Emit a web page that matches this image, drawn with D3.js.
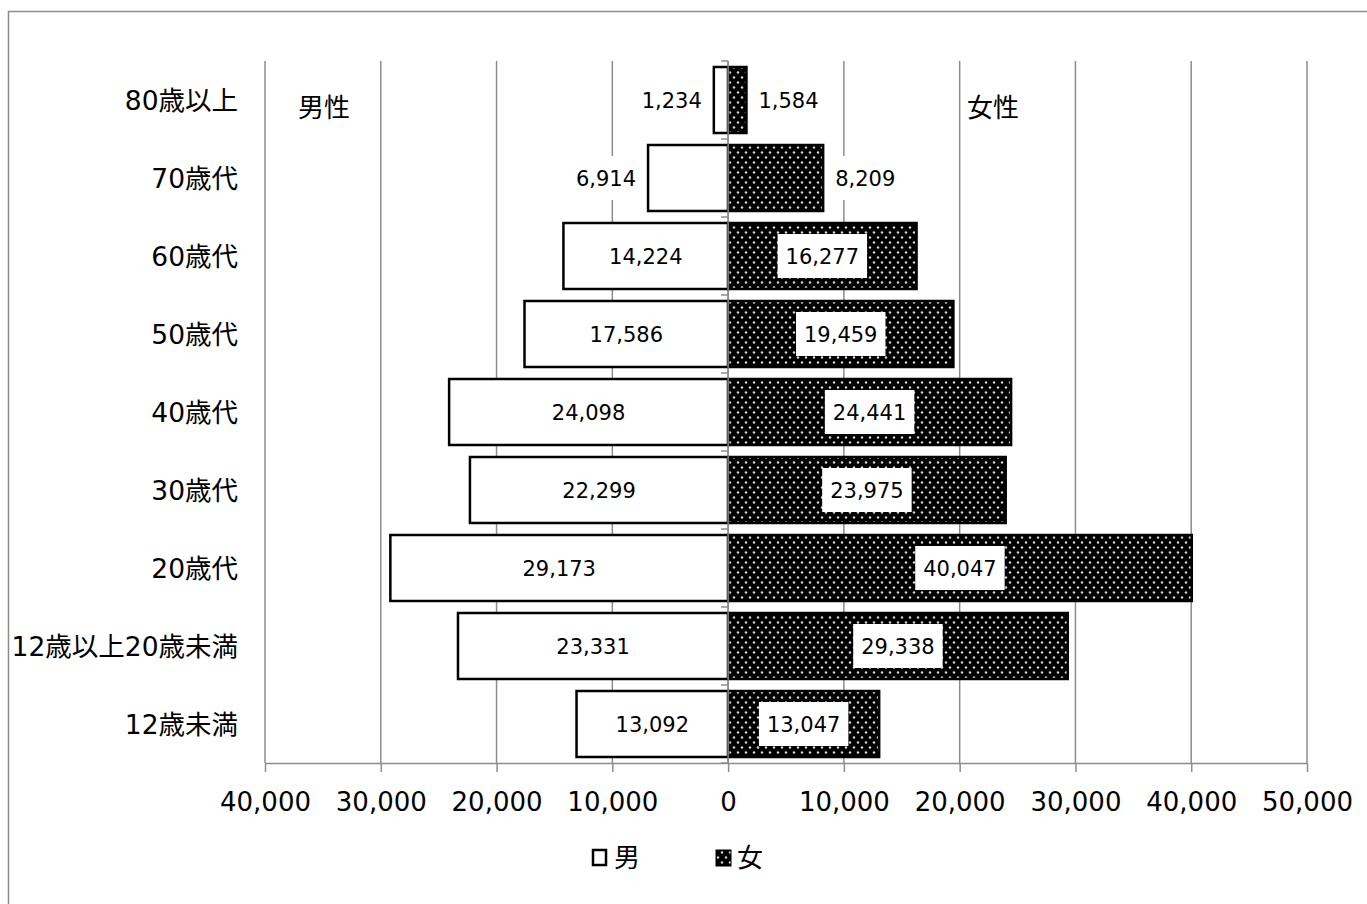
<!DOCTYPE html>
<html>
<head>
<meta charset="utf-8">
<script src="https://cdn.jsdelivr.net/npm/d3@7/dist/d3.min.js"></script>
<style>
body { margin: 0; background: #fff; }
svg text { font-family: Verdana, "DejaVu Sans", "Noto Sans CJK JP", sans-serif; fill: #000; }
</style>
</head>
<body>
<svg width="1367" height="904"></svg>
<script>
// age groups, top to bottom
var categories = ["80歳以上", "70歳代", "60歳代", "50歳代", "40歳代", "30歳代", "20歳代", "12歳以上20歳未満", "12歳未満"];
var male = [1234, 6914, 14224, 17586, 24098, 22299, 29173, 23331, 13092];
var female = [1584, 8209, 16277, 19459, 24441, 23975, 40047, 29338, 13047];
var xTicks = [-40000, -30000, -20000, -10000, 0, 10000, 20000, 30000, 40000, 50000];

var svg = d3.select('svg');
var grey = '#8c8c8c';
var fmt = d3.format(',');

// frame
svg.append('rect')
	.attr('x', 8.5).attr('y', 11.5)
	.attr('width', 1370).attr('height', 900)
	.attr('fill', 'none').attr('stroke', grey).attr('stroke-width', 1.5);

// dotted pattern for the female bars
var pat = svg.append('defs').append('pattern')
	.attr('id', 'dots')
	.attr('patternUnits', 'userSpaceOnUse')
	.attr('width', 8).attr('height', 10);
pat.append('rect').attr('width', 8).attr('height', 10).attr('fill', '#000');
pat.append('circle').attr('cx', 2).attr('cy', 2.5).attr('r', 1.2).attr('fill', '#d8d8d8');
pat.append('circle').attr('cx', 6).attr('cy', 7.5).attr('r', 1.2).attr('fill', '#d8d8d8');

var x = d3.scaleLinear().domain([-40000, 50000]).range([265, 1307]);
var y = d3.scaleBand().domain(categories).range([61, 763])
	.paddingInner(0.154).paddingOuter(0.077);

// vertical gridlines
svg.append('g').selectAll('line')
	.data(xTicks)
	.enter()
	.append('line')
		.attr('x1', function(d){ return x(d) }).attr('x2', function(d){ return x(d) })
		.attr('y1', 61).attr('y2', 763)
		.attr('stroke', grey).attr('stroke-width', 1.5);

// x axis
var xAxis = svg.append('g')
	.attr('transform', 'translate(0,763)')
	.call(d3.axisBottom(x).tickValues(xTicks).tickSize(9).tickSizeOuter(0)
		.tickFormat(function(d){ return fmt(Math.abs(d)) }));
xAxis.select('.domain').attr('stroke', grey).attr('stroke-width', 1.5);
xAxis.selectAll('.tick line').attr('stroke', grey).attr('stroke-width', 1.5);
xAxis.selectAll('.tick text').attr('dy', 0).attr('y', 48).style('font-size', '26px');

// category labels
svg.append('g').selectAll('text')
	.data(categories)
	.enter()
	.append('text')
		.attr('x', 238)
		.attr('y', function(d){ return y(d) + y.bandwidth() / 2 })
		.attr('dy', '0.36em')
		.attr('text-anchor', 'end')
		.style('font-size', '26.5px')
		.text(function(d){ return d });

// bars
var rows = categories.map(function(c, i){ return {cat: c, m: male[i], f: female[i]} });

svg.append('g').selectAll('rect')
	.data(rows)
	.enter()
	.append('rect')
		.attr('x', function(d){ return x(-d.m) })
		.attr('y', function(d){ return y(d.cat) })
		.attr('width', function(d){ return x(0) - x(-d.m) })
		.attr('height', y.bandwidth())
		.attr('fill', '#fff').attr('stroke', '#000').attr('stroke-width', 2.5);

svg.append('g').selectAll('rect')
	.data(rows)
	.enter()
	.append('rect')
		.attr('x', x(0))
		.attr('y', function(d){ return y(d.cat) })
		.attr('width', function(d){ return x(d.f) - x(0) })
		.attr('height', y.bandwidth())
		.attr('fill', 'url(#dots)').attr('stroke', '#000').attr('stroke-width', 2.5);

// zero axis with ticks at band edges
var zero = svg.append('g');
zero.append('line')
	.attr('x1', x(0)).attr('x2', x(0)).attr('y1', 61).attr('y2', 763)
	.attr('stroke', grey).attr('stroke-width', 1.5);
var edges = categories.map(function(c){ return y(c) - y.step() * y.paddingInner() / 2 });
edges.push(763);
zero.selectAll('line.edge')
	.data(edges)
	.enter()
	.append('line')
		.attr('class', 'edge')
		.attr('x1', x(0) - 7).attr('x2', x(0))
		.attr('y1', function(d){ return d }).attr('y2', function(d){ return d })
		.attr('stroke', grey).attr('stroke-width', 1.5);

// value labels in white boxes
function addLabel(value, x0, x1, cy, side){
	var g = svg.append('g');
	var box = g.append('rect').attr('fill', '#fff');
	var t = g.append('text')
		.attr('y', cy).attr('dy', '0.36em')
		.attr('text-anchor', 'middle')
		.style('font-size', '21px')
		.text(fmt(value));
	var w = t.node().getComputedTextLength() + 16;
	var cx;
	if (x1 - x0 < w + 40) {
		cx = side < 0 ? x0 - 12 - w / 2 + 8 : x1 + 12 + w / 2 - 8;
	} else {
		cx = (x0 + x1) / 2;
	}
	t.attr('x', cx);
	box.attr('x', cx - w / 2).attr('y', cy - 22).attr('width', w).attr('height', 44);
}

rows.forEach(function(d){
	var cy = y(d.cat) + y.bandwidth() / 2;
	addLabel(d.m, x(-d.m), x(0), cy, -1);
	addLabel(d.f, x(0), x(d.f), cy, 1);
});

// side titles
svg.append('text').attr('x', 298).attr('y', 108).attr('dy', '0.36em')
	.style('font-size', '26px').text('男性');
svg.append('text').attr('x', 967).attr('y', 108).attr('dy', '0.36em')
	.style('font-size', '26px').text('女性');

// legend
var legend = svg.append('g');
legend.append('rect').attr('x', 593).attr('y', 850).attr('width', 13).attr('height', 15)
	.attr('fill', '#fff').attr('stroke', '#000').attr('stroke-width', 2.5);
legend.append('text').attr('x', 614).attr('y', 858).attr('dy', '0.36em')
	.style('font-size', '26px').text('男');
legend.append('rect').attr('x', 716).attr('y', 850).attr('width', 15).attr('height', 16)
	.attr('fill', 'url(#dots)').attr('stroke', '#000').attr('stroke-width', 1);
legend.append('text').attr('x', 737).attr('y', 858).attr('dy', '0.36em')
	.style('font-size', '26px').text('女');
</script>
</body>
</html>
